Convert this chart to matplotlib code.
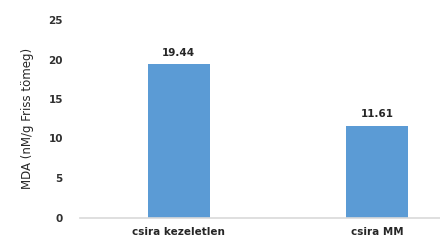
import matplotlib
matplotlib.use("Agg")
import matplotlib.pyplot as plt

categories = ["csira kezeletlen", "csira MM"]
values = [19.44, 11.61]
value_labels = ["19.44", "11.61"]
y_ticks = [0, 5, 10, 15, 20, 25]

plt.rcParams['font.family'] = ['DejaVu Sans']

fig = plt.figure(figsize=(4.4, 2.43), dpi=100)
# axes run past the right edge, the reference is cropped there
ax = fig.add_axes([79.5 / 440, 25.5 / 243, 397 / 440, 197.5 / 243])

x = range(len(categories))
bars = ax.bar(x, values, width=0.31, color="#5B9BD5")

for b, lab in zip(bars, value_labels):
    ax.text(b.get_x() + b.get_width() / 2, b.get_height() + 0.8, lab,
            ha="center", va="bottom", fontsize=7.5, fontweight="bold", color="#262626")

ax.set_xlim(-0.5, 1.5)
ax.set_ylim(0, 25)
ax.set_yticks(y_ticks)
ax.set_yticklabels([str(t) for t in y_ticks], fontsize=7.5, fontweight="bold", color="#303030")
ax.set_xticks(list(x))
ax.set_xticklabels(categories, fontsize=7.5, fontweight="bold", color="#262626")
ax.tick_params(axis="both", length=0)
ax.tick_params(axis="y", pad=12)
ax.tick_params(axis="x", pad=7)

for s in ["top", "right", "left"]:
    ax.spines[s].set_visible(False)
ax.spines["bottom"].set_color("#D9D9D9")
ax.spines["bottom"].set_linewidth(1.2)

ax.set_ylabel("MDA (nM/g Friss tömeg)", fontsize=8.5, color="#262626", labelpad=10)

fig.savefig("out.png", dpi=100)
